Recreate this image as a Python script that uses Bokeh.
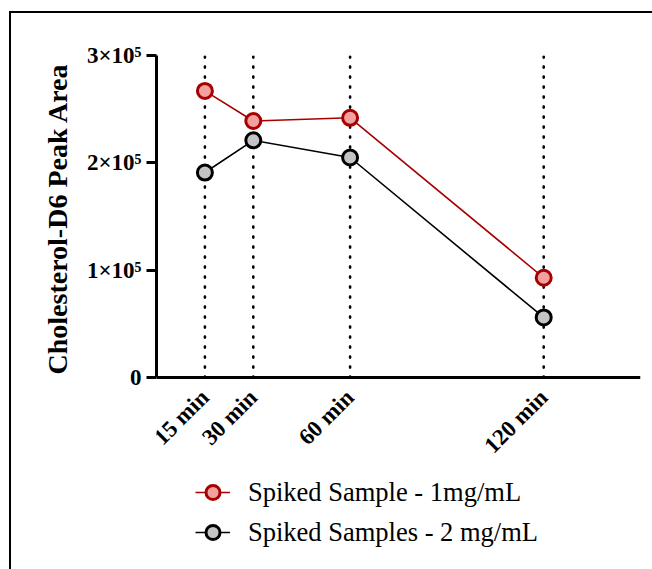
import math
from bokeh.plotting import figure
from bokeh.models import FixedTicker, Range1d, Legend, LegendItem, Title
from bokeh.layouts import column
from bokeh.embed import file_html
from bokeh.resources import INLINE

# ---- data ----
times = [15, 30, 60, 120]
time_labels = ["15 min", "30 min", "60 min", "120 min"]
series1_name = "Spiked Sample - 1mg/mL"
series1 = [267000, 239000, 242000, 93000]
series2_name = "Spiked Samples - 2 mg/mL"
series2 = [191000, 221000, 205000, 56000]
y_ticks = [0, 100000, 200000, 300000]
y_tick_labels = ["0", "1×10⁵", "2×10⁵", "3×10⁵"]
y_title = "Cholesterol-D6 Peak Area"

FONT = "Liberation Serif"

p = figure(width=641, height=556, output_backend="svg", toolbar_location=None,
           x_range=Range1d(0, 150), y_range=Range1d(-175000, 300000),
           min_border_left=145, min_border_right=12, min_border_top=42,
           min_border_bottom=4)
p.outline_line_color = None
p.xgrid.visible = False
p.ygrid.visible = False

# dotted verticals
for t in times:
    p.line([t, t], [0, 300000], line_color="black", line_width=2.6,
           line_dash="1 9", line_cap="round")

l1 = p.line(times, series1, line_color="#a80000", line_width=1.6)
s1 = p.scatter(times, series1, marker="circle", size=15, line_color="#a80000",
               line_width=3, fill_color="#f2a0a0")
l2 = p.line(times, series2, line_color="black", line_width=1.6)
s2 = p.scatter(times, series2, marker="circle", size=15, line_color="black",
               line_width=3, fill_color="#c4c4c4")

# axes
p.yaxis.ticker = FixedTicker(ticks=y_ticks)
p.yaxis.major_label_overrides = dict(zip(y_ticks, y_tick_labels))
p.yaxis.bounds = (0, 300000)
p.yaxis.axis_line_width = 3
p.yaxis.major_tick_line_width = 3
p.yaxis.major_tick_out = 10
p.yaxis.major_tick_in = 0
p.yaxis.minor_tick_line_color = None
p.yaxis.major_label_text_font = FONT
p.yaxis.major_label_text_font_style = "bold"
p.yaxis.major_label_text_font_size = "23px"
p.yaxis.major_label_text_color = "black"
p.yaxis.major_label_standoff = 5

p.add_layout(Title(text=y_title, align="left", offset=191,
                   text_font=FONT, text_font_style="bold",
                   text_font_size="28px", text_color="black",
                   standoff=22), "left")

p.xaxis.fixed_location = 0
p.xaxis.ticker = FixedTicker(ticks=times)
p.xaxis.major_label_overrides = dict(zip(times, time_labels))
p.xaxis.axis_line_width = 3
p.xaxis.major_tick_line_color = None
p.xaxis.minor_tick_line_color = None
p.xaxis.major_label_orientation = math.pi / 4
p.xaxis.major_label_text_font = FONT
p.xaxis.major_label_text_font_style = "bold"
p.xaxis.major_label_text_font_size = "23px"
p.xaxis.major_label_text_color = "black"
p.xaxis.major_label_standoff = 10

legend = Legend(items=[LegendItem(label=series1_name, renderers=[l1, s1]),
                       LegendItem(label=series2_name, renderers=[l2, s2])],
                location=(39, 13), orientation="vertical",
                border_line_color=None, background_fill_alpha=0,
                label_text_font=FONT, label_text_font_size="26.5px",
                label_text_color="black",
                glyph_width=35, glyph_height=40, label_height=40,
                label_standoff=18, spacing=0, padding=0, margin=0)
p.add_layout(legend, "center")

layout = column(p, margin=(11, 0, 0, 9),
                styles={"border-left": "2px solid black", "border-top": "2px solid black"})

open("out.html", "w").write(file_html(layout, INLINE))
